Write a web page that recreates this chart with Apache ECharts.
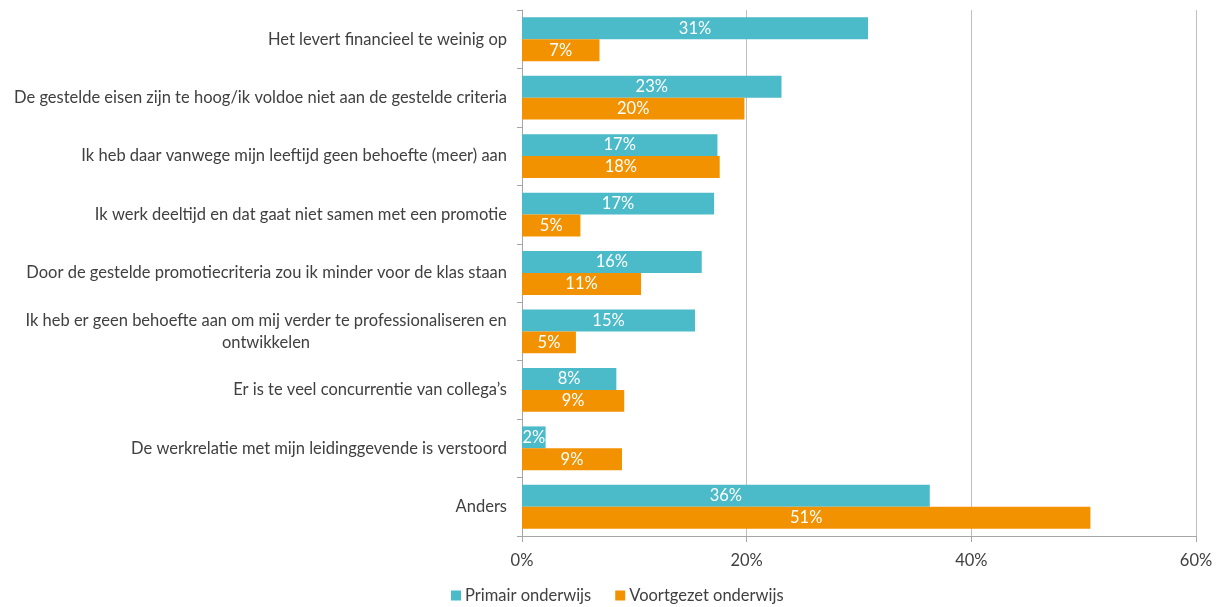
<!DOCTYPE html>
<html>
<head>
<meta charset="utf-8">
<script src="https://cdn.jsdelivr.net/npm/echarts@6/dist/echarts.min.js"></script>
<style>
  html, body { margin: 0; padding: 0; background: #ffffff; }
  #chart { width: 1220px; height: 607px; }
</style>
</head>
<body>
<div id="chart"></div>
<script>
// Redenen om geen promotie te ambiëren, per onderwijssector (percentages)
const categories = [
  'Het levert financieel te weinig op',
  'De gestelde eisen zijn te hoog/ik voldoe niet aan de gestelde criteria',
  'Ik heb daar vanwege mijn leeftijd geen behoefte (meer) aan',
  'Ik werk deeltijd en dat gaat niet samen met een promotie',
  'Door de gestelde promotiecriteria zou ik minder voor de klas staan',
  'Ik heb er geen behoefte aan om mij verder te professionaliseren en\nontwikkelen',
  'Er is te veel concurrentie van collega\u2019s',
  'De werkrelatie met mijn leidinggevende is verstoord',
  'Anders'
];
const seriesNames = ['Primair onderwijs', 'Voortgezet onderwijs'];
const primair = [30.8, 23.1, 17.4, 17.1, 16.0, 15.4, 8.4, 2.1, 36.3];
const voortgezet = [6.9, 19.8, 17.6, 5.2, 10.6, 4.8, 9.1, 8.9, 50.6];
const xTicks = [0, 20, 40, 60];

const FONT = 'Lato';
const FS = 16.5;
const colors = ['#4bbac9', '#f39200'];

// width of the widest line of a wrapped label, so its lines can be centred on each other
function widestLine(text) {
  const ctx = document.createElement('canvas').getContext('2d');
  ctx.font = FS + 'px ' + FONT;
  return Math.ceil(Math.max(...text.split('\n').map(l => ctx.measureText(l).width)));
}

const chart = echarts.init(document.getElementById('chart'), null, { renderer: 'canvas' });

const valueLabel = {
  show: true,
  position: 'inside',
  color: '#ffffff',
  fontFamily: FONT,
  fontSize: FS,
  formatter: p => Math.round(p.value) + '%'
};

function draw() {
  const wrapped = categories.find(c => c.indexOf('\n') >= 0) || '';
  chart.setOption({
    animation: false,
    textStyle: { fontFamily: FONT },
    color: colors,
    grid: { left: 522, right: 24, top: 10, bottom: 71, containLabel: false },
    legend: {
      bottom: -2,
      left: 446,
      itemWidth: 10,
      itemHeight: 10,
      itemGap: 24,
      icon: 'rect',
      textStyle: { fontFamily: FONT, fontSize: FS, color: '#404040', padding: [0, 0, 0, -1] },
      data: seriesNames
    },
    xAxis: {
      type: 'value',
      min: xTicks[0],
      max: xTicks[xTicks.length - 1],
      interval: 20,
      axisLine: { show: true, lineStyle: { color: '#a6a6a6' } },
      axisTick: { show: true, length: 6, lineStyle: { color: '#a6a6a6' } },
      splitLine: { show: true, lineStyle: { color: '#bfbfbf' } },
      axisLabel: {
        margin: 16,
        fontFamily: FONT,
        fontSize: FS,
        color: '#404040',
        formatter: '{value}%'
      }
    },
    yAxis: {
      type: 'category',
      inverse: true,
      data: categories,
      axisLine: { show: true, lineStyle: { color: '#a6a6a6' } },
      axisTick: { show: true, length: 5, lineStyle: { color: '#a6a6a6' } },
      axisLabel: {
        margin: 15,
        fontFamily: FONT,
        fontSize: FS,
        color: '#404040',
        lineHeight: 22,
        formatter: v => v.indexOf('\n') >= 0 ? '{w|' + v + '}' : v,
        rich: {
          w: { width: widestLine(wrapped), align: 'center', fontFamily: FONT, fontSize: FS, color: '#404040', lineHeight: 22 }
        }
      }
    },
    series: [
      {
        name: seriesNames[0],
        type: 'bar',
        data: primair,
        barGap: '0%',
        barCategoryGap: '25%',
        label: valueLabel
      },
      {
        name: seriesNames[1],
        type: 'bar',
        data: voortgezet,
        barGap: '0%',
        barCategoryGap: '25%',
        label: valueLabel
      }
    ]
  });
}

if (document.fonts && document.fonts.load) {
  document.fonts.load(FS + 'px ' + FONT).then(draw, draw);
} else {
  draw();
}
</script>
</body>
</html>
